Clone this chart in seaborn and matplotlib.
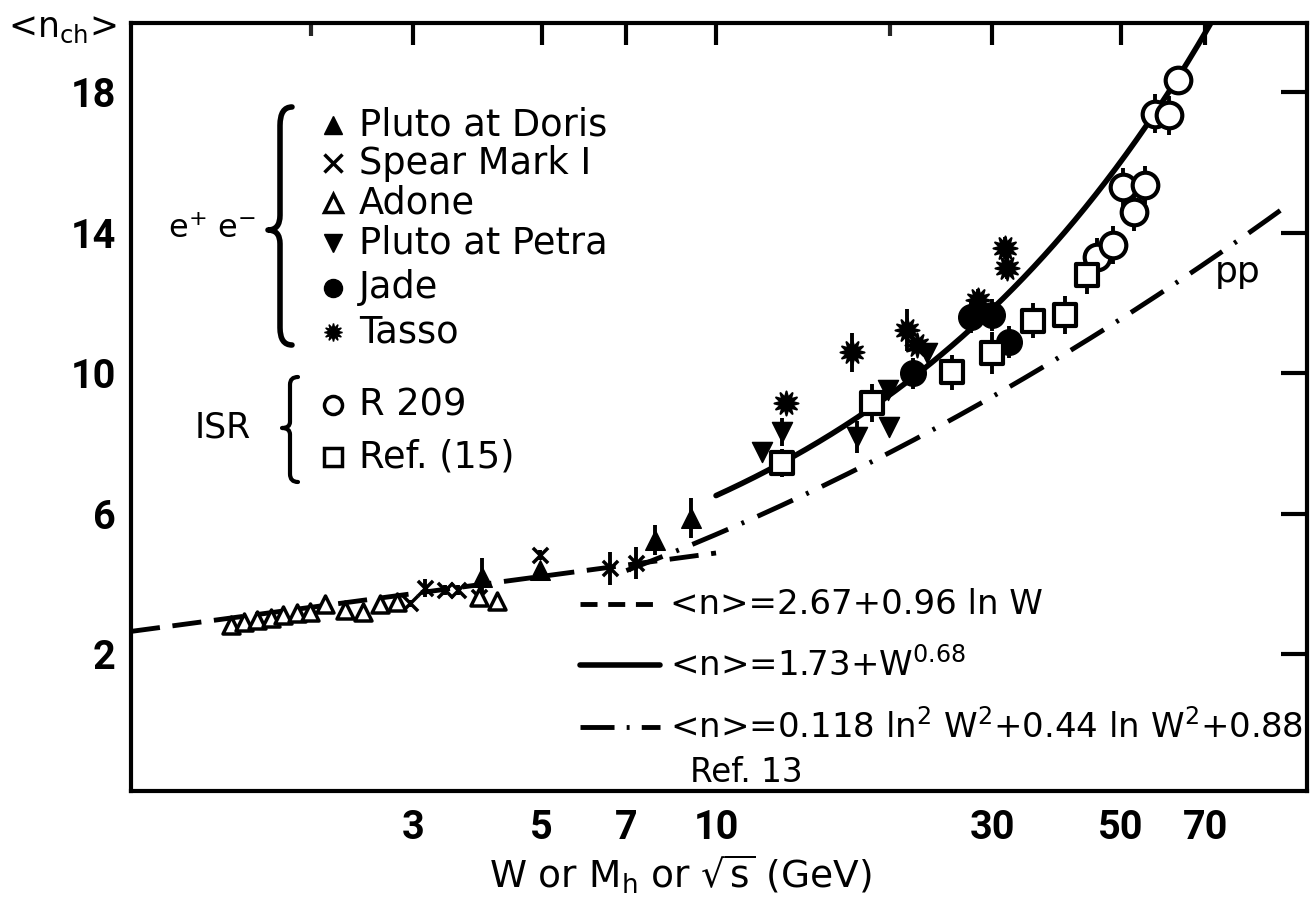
import numpy as np
import pandas as pd
import matplotlib
matplotlib.use("Agg")
import matplotlib.pyplot as plt
import seaborn as sns
from matplotlib.path import Path
from matplotlib.patches import PathPatch
from matplotlib.lines import Line2D
from matplotlib.ticker import FixedLocator, FixedFormatter, NullFormatter

# ---------------- data ----------------
doris_W = [3.94, 4.97, 7.85, 9.07]
doris_n = [4.20, 4.39, 5.25, 5.87]
doris_e = [0.55, 0.15, 0.43, 0.57]

spear_W = [2.96, 3.14, 3.40, 3.58, 3.90, 4.97, 6.57, 7.28]
spear_n = [3.45, 3.88, 3.82, 3.82, 3.62, 4.82, 4.45, 4.59]
spear_e = [0.10, 0.25, 0.15, 0.15, 0.20, 0.15, 0.47, 0.45]

adone_W = [1.45, 1.53, 1.61, 1.70, 1.79, 1.89, 1.99, 2.11, 2.29, 2.46, 2.63, 2.81, 3.90, 4.18]
adone_n = [2.83, 2.92, 2.97, 3.02, 3.11, 3.16, 3.20, 3.44, 3.25, 3.20, 3.44, 3.49, 3.62, 3.50]

petra_W = [12.0, 13.0, 17.5, 19.9, 19.8, 23.1]
petra_n = [7.76, 8.33, 8.18, 8.47, 9.52, 10.58]
petra_e = [0.0, 0.40, 0.45, 0.0, 0.0, 0.0]

jade_W = [21.9, 27.6, 30.0, 32.1]
jade_n = [10.0, 11.6, 11.66, 10.9]
jade_e = [0.45, 0.45, 0.45, 0.45]

tasso_W = [13.2, 17.2, 21.4, 22.2, 28.3, 31.5, 31.8]
tasso_n = [9.15, 10.6, 11.23, 10.8, 12.1, 13.57, 13.0]
tasso_e = [0.0, 0.55, 0.60, 0.0, 0.30, 0.30, 0.30]

r209_W = [45.5, 48.4, 50.5, 52.8, 55.0, 57.3, 60.7, 62.8]
r209_n = [13.3, 13.65, 15.3, 14.6, 15.36, 17.4, 17.35, 18.35]
r209_e = [0.55, 0.55, 0.55, 0.55, 0.55, 0.55, 0.55, 0.4]

ref15_W = [13.0, 18.6, 25.6, 30.0, 35.3, 40.0, 43.8]
ref15_n = [7.44, 9.15, 10.03, 10.58, 11.5, 11.66, 12.8]
ref15_e = [0.4, 0.55, 0.5, 0.6, 0.5, 0.55, 0.55]

# fit formulas printed on the chart
log_fit = [2.67, 0.96]            # <n> = a + b ln W
pow_fit = [1.73, 0.68]            # <n> = a + W^p
pp_fit = [0.118, 0.44, 0.88]      # <n> = a ln^2 W^2 + b ln W^2 + c
log_range = [0.976, 10.0]
pow_range = [10.0, 76.0]
pp_range = [7.0, 97.0]

xticks = [3, 5, 7, 10, 30, 50, 70]
xminor = [2, 20]
yticks = [2, 6, 10, 14, 18]

# ---------------- figure ----------------
sns.set_theme(style="white")
plt.rcParams["font.family"] = ["DejaVu Sans"]
plt.rcParams["mathtext.default"] = "regular"
plt.rcParams["text.color"] = "black"

FW, FH = 1311, 902
fig = plt.figure(figsize=(FW / 100, FH / 100), dpi=100)
fig.patch.set_facecolor("white")
ax = fig.add_axes([131 / FW, 1 - 791 / FH, 1176 / FW, 768 / FH])
ax.set_facecolor("white")


def P(x, y):
    return (x / FW, 1 - y / FH)


# curves
Wd = np.geomspace(*log_range, 200)
sns.lineplot(x=Wd, y=log_fit[0] + log_fit[1] * np.log(Wd), ax=ax, color="black", lw=3.5, sort=False)
ax.lines[-1].set_linestyle((0, (6, 2.6)))
Ws = np.geomspace(*pow_range, 200)
sns.lineplot(x=Ws, y=pow_fit[0] + Ws ** pow_fit[1], ax=ax, color="black", lw=4, sort=False)
Wp = np.geomspace(*pp_range, 300)
L2 = np.log(Wp ** 2)
sns.lineplot(x=Wp, y=pp_fit[0] * L2 ** 2 + pp_fit[1] * L2 + pp_fit[2], ax=ax, color="black", lw=3.5, sort=False)
ax.lines[-1].set_linestyle((0, (8, 3, 0.6, 3)))

TASSO = (12, 1, 0)

# points
series = [
    ("Pluto at Doris", doris_W, doris_n, doris_e, "^", "black", 200, 1),
    ("Spear Mark I", spear_W, spear_n, spear_e, "x", "black", 120, 2.5),
    ("Adone", adone_W, adone_n, [0] * len(adone_W), "^", "white", 150, 2.5),
    ("Pluto at Petra", petra_W, petra_n, petra_e, "v", "black", 210, 1),
    ("Jade", jade_W, jade_n, jade_e, "o", "black", 340, 1),
    ("Tasso", tasso_W, tasso_n, tasso_e, TASSO, "black", 300, 1.5),
    ("R 209", r209_W, r209_n, r209_e, "o", "white", 340, 3),
    ("Ref. (15)", ref15_W, ref15_n, ref15_e, "s", "white", 240, 3),
]
for name, W, n, e, m, fc, s, lw in series:
    df = pd.DataFrame({"W": W, "n": n, "e": e})
    de = df[df.e > 0]
    if len(de):
        ax.errorbar(de.W, de.n, yerr=de.e, fmt="none", ecolor="black", elinewidth=2.8, capsize=0, zorder=3)
    if m == "x":
        sns.scatterplot(data=df, x="W", y="n", ax=ax, marker=m, s=s, color="black", linewidth=lw, zorder=4)
    else:
        sns.scatterplot(data=df, x="W", y="n", ax=ax, marker=m, s=s, facecolor=fc,
                        edgecolor="black", linewidth=lw, zorder=4)

# axes
ax.set_xscale("log")
ax.set_xlim(0.976, 104.9)
ax.set_ylim(-1.9, 19.98)
ax.xaxis.set_major_locator(FixedLocator(xticks))
ax.xaxis.set_major_formatter(FixedFormatter([str(t) for t in xticks]))
ax.xaxis.set_minor_locator(FixedLocator(xminor))
ax.xaxis.set_minor_formatter(NullFormatter())
ax.yaxis.set_major_locator(FixedLocator(yticks))
ax.yaxis.set_minor_locator(FixedLocator([]))
ax.set_xlabel("")
ax.set_ylabel("")
for sp in ax.spines.values():
    sp.set_visible(True)
    sp.set_linewidth(3)
    sp.set_color("black")
ax.tick_params(axis="x", which="major", direction="in", length=16, width=3, top=True,
               labelsize=28.5, pad=13, colors="black")
ax.tick_params(axis="x", which="minor", direction="in", length=9, width=3, top=True)
ax.tick_params(axis="y", which="major", direction="in", length=19, width=3, right=True,
               labelsize=28.5, pad=11, colors="black")
for lab in ax.get_xticklabels() + ax.get_yticklabels():
    lab.set_family(["Roboto", "DejaVu Sans"])
    lab.set_fontweight("bold")
    lab.set_color("black")

# axis titles
fig.text(*P(8, 28), "<n$_{ch}$>", fontsize=25, va="center", ha="left")
fig.text(*P(680, 874), "W or M$_{h}$ or $\\sqrt{s}$ (GeV)", fontsize=27, va="center", ha="center")

# legend for data
leg = [
    ("Pluto at Doris", "^", "black", 125, 1),
    ("Spear Mark I", "x", "black", 163, 2.5),
    ("Adone", "^", "white", 203, 2.5),
    ("Pluto at Petra", "v", "black", 243, 1),
    ("Jade", "o", "black", 288, 1),
    ("Tasso", TASSO, "black", 332, 1),
    ("R 209", "o", "white", 405, 2.5),
    ("Ref. (15)", "s", "white", 457, 2.5),
]
for name, m, fc, y, lw in leg:
    x0, y0 = P(333, y)
    fig.add_artist(Line2D([x0], [y0], marker=m, markersize=13, markerfacecolor=fc,
                          markeredgecolor="black", markeredgewidth=lw, color="black",
                          linestyle="none", transform=fig.transFigure))
    fig.text(*P(359, y), name, fontsize=26.5, va="center", ha="left")

fig.text(*P(168, 230), "e$^{+}$ e$^{-}$", fontsize=23, va="center", ha="left")
fig.text(*P(195, 428), "ISR", fontsize=25, va="center", ha="left")


def brace(xtip, xr, y0, y1, ym, lw):
    xm = (xtip + xr) / 2
    pts = [(xr, y0), (xm, y0), (xm, y0 + 0.15 * (ym - y0)),
           (xm, ym - 0.12 * (ym - y0)),
           (xm, ym), (xtip, ym),
           (xm, ym), (xm, ym + 0.12 * (y1 - ym)),
           (xm, y1 - 0.15 * (y1 - ym)),
           (xm, y1), (xr, y1)]
    codes = [Path.MOVETO, Path.CURVE3, Path.CURVE3, Path.LINETO, Path.CURVE3, Path.CURVE3,
             Path.CURVE3, Path.CURVE3, Path.LINETO, Path.CURVE3, Path.CURVE3]
    path = Path([P(x, y) for x, y in pts], codes)
    fig.add_artist(PathPatch(path, transform=fig.transFigure, fill=False, lw=lw,
                             edgecolor="black", capstyle="round", joinstyle="round"))


brace(268, 292, 107, 345, 230, 4)
brace(282, 298, 377, 482, 428, 3)

# legend for fits
fits = [
    ((0, (3.5, 2.2)), 604, "<n>=2.67+0.96 ln W", 3.5),
    ("-", 665, "<n>=1.73+W$^{0.68}$", 4),
    ((0, (7, 2.5, 0.6, 2.5)), 727, "<n>=0.118 ln$^{2}$ W$^{2}$+0.44 ln W$^{2}$+0.88", 3.5),
]
for ls, y, txt, lw in fits:
    (xa, ya), (xb, _) = P(580, y), P(660, y)
    fig.add_artist(Line2D([xa, xb], [ya, ya], color="black", lw=lw, linestyle=ls,
                          transform=fig.transFigure))
    fig.text(*P(670, y), txt, fontsize=24.5, va="center", ha="left")
fig.text(*P(690, 772), "Ref. 13", fontsize=23.5, va="center", ha="left")
fig.text(*P(1238, 272), "pp", fontsize=26, va="center", ha="center")

fig.savefig("out.png", dpi=100, facecolor="white")
